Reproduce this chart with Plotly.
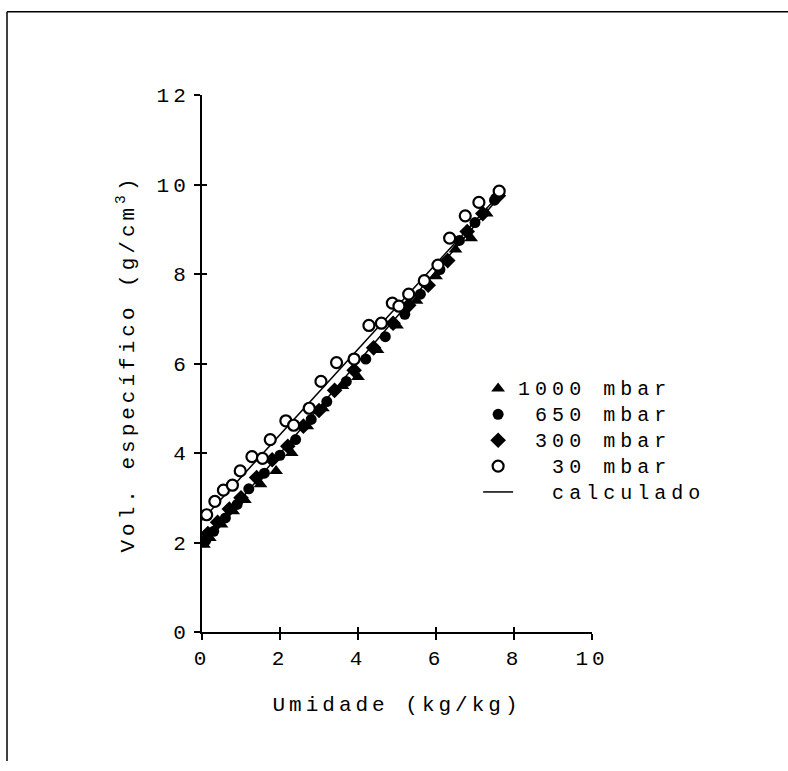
import plotly.graph_objects as go

# Measured specific volume vs. moisture content at four chamber pressures
x_1000 = [0.05, 0.20, 0.50, 0.80, 1.10, 1.50, 1.90, 2.30, 2.70, 3.10, 3.60, 4.00, 4.50, 5.00, 5.50, 6.00, 6.50, 6.90, 7.30]
y_1000 = [1.95, 2.10, 2.40, 2.70, 2.95, 3.30, 3.60, 4.00, 4.60, 5.00, 5.50, 5.70, 6.30, 6.85, 7.40, 7.95, 8.55, 8.80, 9.35]

x_650 = [0.10, 0.30, 0.60, 0.90, 1.20, 1.60, 2.00, 2.40, 2.80, 3.20, 3.70, 4.20, 4.70, 5.20, 5.60, 6.10, 6.60, 7.00, 7.50]
y_650 = [2.05, 2.25, 2.55, 2.85, 3.20, 3.55, 3.95, 4.30, 4.75, 5.15, 5.60, 6.10, 6.60, 7.10, 7.55, 8.10, 8.75, 9.15, 9.65]

x_300 = [0.15, 0.40, 0.70, 1.00, 1.40, 1.80, 2.20, 2.60, 3.00, 3.40, 3.90, 4.40, 4.90, 5.30, 5.80, 6.30, 6.80, 7.20, 7.60]
y_300 = [2.20, 2.45, 2.75, 3.00, 3.45, 3.85, 4.15, 4.60, 4.95, 5.40, 5.85, 6.35, 6.90, 7.30, 7.75, 8.30, 8.95, 9.35, 9.75]

x_30 = [0.12, 0.33, 0.55, 0.78, 0.98, 1.28, 1.55, 1.75, 2.15, 2.35, 2.75, 3.05, 3.45, 3.90, 4.28, 4.60, 4.88, 5.05, 5.30, 5.70, 6.05, 6.35, 6.75, 7.10, 7.62]
y_30 = [2.62, 2.92, 3.17, 3.28, 3.60, 3.92, 3.88, 4.30, 4.72, 4.62, 5.00, 5.60, 6.02, 6.10, 6.85, 6.90, 7.35, 7.28, 7.55, 7.85, 8.20, 8.80, 9.30, 9.60, 9.85]

# Model curves (upper: 30 mbar, lower: higher pressures)
x_calc = [0.0, 7.7, None, 0.0, 7.6]
y_calc = [2.50, 9.85, None, 1.95, 9.70]

x_ticks = [0, 2, 4, 6, 8, 10]
y_ticks = [0, 2, 4, 6, 8, 10, 12]

NB = "\u00a0"
legend_names = ["1000 mbar", NB + "650 mbar", NB + "300 mbar", NB * 2 + "30 mbar", NB * 2 + "calculado"]

FONT = "Liberation Mono, Courier New, monospace"
BLACK = "#000000"
FS = 21

fig = go.Figure()

fig.add_trace(go.Scatter(
    x=x_calc, y=y_calc, mode="lines", name=legend_names[4],
    line=dict(color=BLACK, width=1.5), legendrank=5))

fig.add_trace(go.Scatter(
    x=x_1000, y=y_1000, mode="markers", name=legend_names[0],
    marker=dict(symbol="triangle-up", size=12, color=BLACK), legendrank=1))
fig.add_trace(go.Scatter(
    x=x_650, y=y_650, mode="markers", name=legend_names[1],
    marker=dict(symbol="circle", size=11, color=BLACK), legendrank=2))
fig.add_trace(go.Scatter(
    x=x_300, y=y_300, mode="markers", name=legend_names[2],
    marker=dict(symbol="diamond", size=12, color=BLACK), legendrank=3))
fig.add_trace(go.Scatter(
    x=x_30, y=y_30, mode="markers", name=legend_names[3],
    marker=dict(symbol="circle", size=11, color="white",
                line=dict(color=BLACK, width=2.2)), legendrank=4))

# empty trace on a twin pair of axes, used only for the inner half of the cross ticks
fig.add_trace(go.Scatter(x=[], y=[], xaxis="x2", yaxis="y2",
                         showlegend=False, hoverinfo="skip"))

axis_common = dict(
    showline=True, linecolor=BLACK, linewidth=2,
    ticks="outside", ticklen=6, tickwidth=2, tickcolor=BLACK,
    showgrid=False, zeroline=False,
    tickfont=dict(family=FONT, size=FS, color=BLACK),
    title_font=dict(family=FONT, size=FS, color=BLACK),
)
twin_common = dict(
    showline=False, ticks="inside", ticklen=5, tickwidth=2, tickcolor=BLACK,
    showgrid=False, zeroline=False, showticklabels=False,
)

fig.update_layout(
    width=788, height=771,
    margin=dict(l=202, r=196, t=95, b=139),
    paper_bgcolor="white", plot_bgcolor="white",
    font=dict(family=FONT, color=BLACK),
    xaxis=dict(range=[0, 10], tickvals=x_ticks,
               title=dict(text="Umidade (kg/kg)", standoff=26), **axis_common),
    yaxis=dict(range=[0, 12], tickvals=y_ticks,
               title=dict(text="Vol. específico (g/cm<sup>3</sup>)", standoff=24), **axis_common),
    xaxis2=dict(range=[0, 10], tickvals=x_ticks, overlaying="x", side="bottom",
                anchor="y2", **twin_common),
    yaxis2=dict(range=[0, 12], tickvals=y_ticks, overlaying="y", side="left",
                anchor="x2", **twin_common),
    legend=dict(x=0.708, y=0.487, xanchor="left", yanchor="top",
                font=dict(family=FONT, size=17.6, color=BLACK),
                bgcolor="rgba(0,0,0,0)", tracegroupgap=0, itemwidth=30),
    showlegend=True,
    shapes=[
        dict(type="line", xref="paper", yref="paper",
             x0=-0.5, x1=1.51, y0=1.155, y1=1.155, line=dict(color=BLACK, width=1.5)),
        dict(type="line", xref="paper", yref="paper",
             x0=-0.5, x1=-0.5, y0=1.155, y1=-0.24, line=dict(color=BLACK, width=1.5)),
    ],
)

# wide typewriter-style spacing for all chart text; legend glyphs a bit larger
# than their row pitch, with the legend box left unclipped so nothing is cut.
post = """
var s = document.createElement('style');
s.textContent = '.main-svg text { letter-spacing: 4px; } '
  + '.main-svg .legendtext { font-size: 20px !important; letter-spacing: 5px; } '
  + '.main-svg .legend, .main-svg .legend .scrollbox { clip-path: none !important; }';
document.head.appendChild(s);
"""

fig.write_html("out.html", post_script=post)
